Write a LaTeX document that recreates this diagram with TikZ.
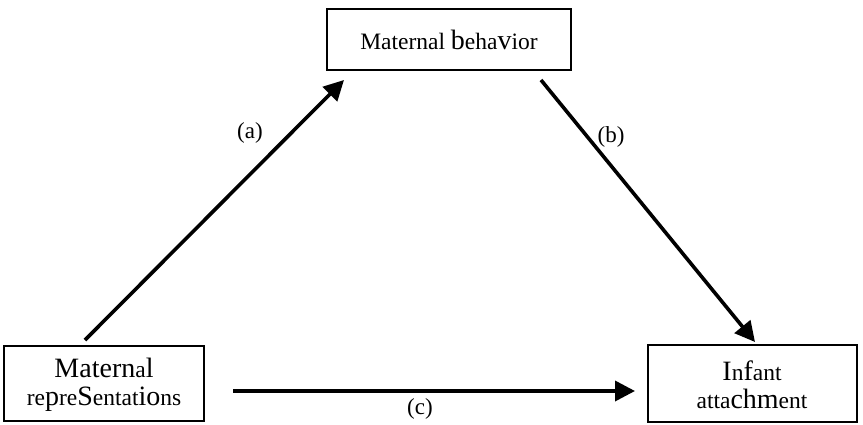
\documentclass[tikz,border=0pt]{standalone}
\usepackage{fontspec}
\setmainfont{Liberation Serif}
\usetikzlibrary{arrows.meta}
\newcommand{\bg}[1]{{\fontsize{28}{28}\selectfont #1}}
\begin{document}
\begin{tikzpicture}[x=1pt,y=-1pt,
  box/.style={draw,line width=2.8pt},
  conn/.style={line width=3.6pt,-{Triangle[length=20pt,width=20pt]}},
  lab/.style={font=\fontsize{23}{23}\selectfont},
  txt/.style={font=\fontsize{23.5}{28}\selectfont,align=center}]
\useasboundingbox (0,0) rectangle (863,424);
\draw[box] (327,9) rectangle (571,70);
\node[txt] (top) at (449,40) {Maternal \bg{b}eha\bg{v}ior};
\draw[box] (4,346) rectangle (204,421);
\node[txt] (left) at (104,385) {\bg{Matern}a\bg{l}\\re\bg{p}re\bg{S}entat\bg{io}ns};
\draw[box] (648,345) rectangle (857,422);
\node[txt] (right) at (752,385) {\bg{I}n\bg{f}ant\\atta\bg{chm}ent};
\coordinate (a0) at (85,340);
\coordinate (a1) at (344,80);
\coordinate (b0) at (541,80);
\coordinate (b1) at (755,342);
\coordinate (c0) at (233,391);
\coordinate (c1) at (635,391);
\draw[conn] (a0) -- (a1);
\draw[conn] (b0) -- (b1);
\draw[conn] (c0) -- (c1);
\node[lab] (la) at (250,133) {(a)};
\node[lab] (lb) at (611,137) {(b)};
\node[lab] (lc) at (420,409) {(c)};
\end{tikzpicture}
\end{document}
